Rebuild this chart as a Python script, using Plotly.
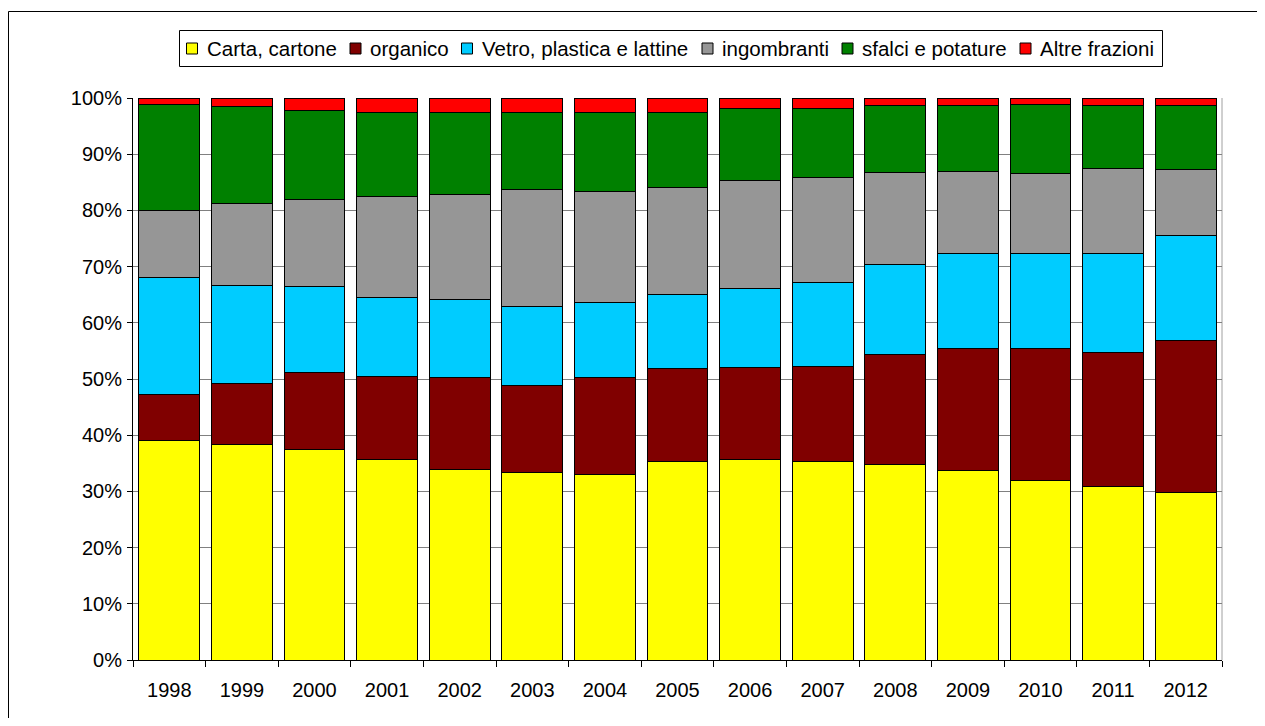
import plotly.graph_objects as go

years = ["1998", "1999", "2000", "2001", "2002", "2003", "2004", "2005",
         "2006", "2007", "2008", "2009", "2010", "2011", "2012"]

carta = [39.1, 38.3, 37.5, 35.6, 33.9, 33.3, 33.0, 35.4, 35.6, 35.4, 34.8, 33.8, 32.0, 30.9, 29.8]
organico = [8.2, 10.9, 13.6, 14.9, 16.4, 15.6, 17.2, 16.4, 16.5, 16.9, 19.5, 21.7, 23.5, 23.9, 27.1]
vetro = [20.7, 17.5, 15.3, 14.0, 13.9, 14.0, 13.5, 13.3, 14.0, 14.8, 16.0, 16.9, 16.9, 17.6, 18.7]
ingombranti = [11.9, 14.5, 15.6, 18.0, 18.6, 20.9, 19.6, 19.0, 19.3, 18.8, 16.5, 14.6, 14.1, 15.1, 11.7]
sfalci = [18.9, 17.2, 15.8, 15.0, 14.7, 13.7, 14.2, 13.4, 12.7, 12.2, 11.9, 11.6, 12.3, 11.1, 11.3]
altre = [1.2, 1.6, 2.2, 2.5, 2.5, 2.5, 2.5, 2.5, 1.9, 1.9, 1.3, 1.4, 1.2, 1.4, 1.4]

series_names = ["Carta, cartone", "organico", "Vetro, plastica e lattine",
                "ingombranti", "sfalci e potature", "Altre frazioni"]
series_values = [carta, organico, vetro, ingombranti, sfalci, altre]
colors = ["#FFFF00", "#800000", "#00CCFF", "#969696", "#008000", "#FF0000"]

y_ticks = list(range(0, 101, 10))
y_labels = [f"{v}%" for v in y_ticks]

FONT = "Liberation Sans, Arial, sans-serif"

# page offset of the figure (browser default body margin on every side)
OFF = 8
W, H = 1265 - 2 * OFF, 726 - 2 * OFF
# plot area in page pixels: x 133..1222, y 98..660
ml, mt = 133 - OFF, 98 - OFF
mr = W - (1222 - OFF)
mb = H - (660 - OFF)
pw, ph = W - ml - mr, H - mt - mb


def px(x):
    """page x pixel -> paper coordinate"""
    return (x - OFF - ml) / pw


def py(y):
    """page y pixel -> paper coordinate"""
    return (H - mb - (y - OFF)) / ph


fig = go.Figure()
for name, vals, col in zip(series_names, series_values, colors):
    fig.add_trace(go.Bar(
        x=years, y=vals, name=name, showlegend=False,
        marker=dict(color=col, line=dict(color="#000000", width=1)),
    ))

shapes = [
    # outer chart border: left and top edges only (the rest is off-page)
    dict(type="line", xref="paper", yref="paper",
         x0=px(8.5), x1=px(8.5), y0=py(760), y1=py(11.5),
         line=dict(color="#000000", width=1), layer="below"),
    dict(type="line", xref="paper", yref="paper",
         x0=px(8.5), x1=px(1300), y0=py(11.5), y1=py(11.5),
         line=dict(color="#000000", width=1), layer="below"),
    # right plot-area edge
    dict(type="line", xref="paper", yref="paper",
         x0=1, x1=1, y0=0, y1=1,
         line=dict(color="#A0A0A0", width=1), layer="below"),
    # legend box
    dict(type="rect", xref="paper", yref="paper",
         x0=px(179.5), x1=px(1162.5), y0=py(66.5), y1=py(30.5),
         line=dict(color="#000000", width=1), fillcolor="white",
         layer="above"),
]
annotations = []

# custom legend (positions of the swatches in page pixels)
swatch_x = [186.5, 350, 461.5, 702, 842, 1020]
sw_top, sw_bot = 43, 54
for name, col, sx in zip(series_names, colors, swatch_x):
    shapes.append(dict(type="rect", xref="paper", yref="paper",
                       x0=px(sx), x1=px(sx + 11), y0=py(sw_bot), y1=py(sw_top),
                       line=dict(color="#000000", width=1), fillcolor=col,
                       layer="above"))
    annotations.append(dict(xref="paper", yref="paper", x=px(sx + 18), y=py(48.5),
                            xanchor="left", yanchor="middle", showarrow=False,
                            text=name,
                            font=dict(family=FONT, size=20.5, color="#000000")))

fig.update_layout(
    width=W, height=H,
    barmode="stack", barnorm="percent", bargap=0.16,
    paper_bgcolor="white", plot_bgcolor="white",
    margin=dict(l=ml, r=mr, t=mt, b=mb, autoexpand=False),
    font=dict(family=FONT, size=20, color="#000000"),
    showlegend=False,
    xaxis=dict(
        type="category", tickson="boundaries", ticks="outside", ticklen=6,
        tickcolor="#000000", showline=True, linecolor="#000000", linewidth=1,
        showgrid=False, ticklabelstandoff=12,
        tickfont=dict(family=FONT, size=20, color="#000000"),
    ),
    yaxis=dict(
        range=[0, 100], tickvals=y_ticks, ticktext=y_labels,
        ticks="outside", ticklen=5, tickcolor="#000000",
        showline=True, linecolor="#000000", linewidth=1,
        showgrid=True, gridcolor="#808080", gridwidth=1, zeroline=False,
        ticklabelstandoff=1,
        tickfont=dict(family=FONT, size=20, color="#000000"),
    ),
    shapes=shapes,
    annotations=annotations,
)

fig.write_html("out.html")
